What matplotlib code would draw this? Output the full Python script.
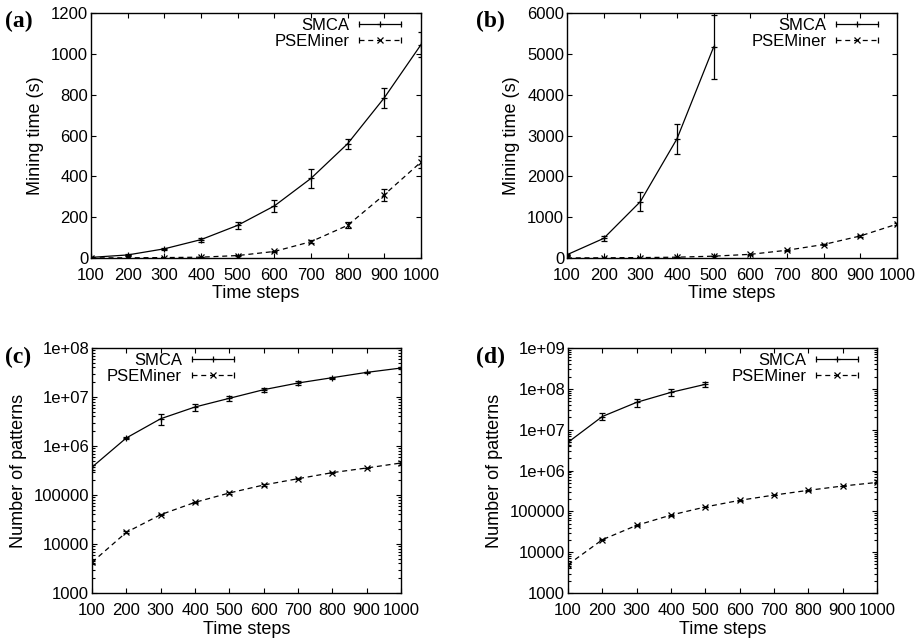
import numpy as np
import matplotlib
matplotlib.use('Agg')
import matplotlib.pyplot as plt
from matplotlib.lines import Line2D
from matplotlib.legend_handler import HandlerLine2D, HandlerTuple
from matplotlib.ticker import FixedLocator, FuncFormatter, LogLocator, NullFormatter

plt.rcParams['font.family'] = ['Liberation Sans', 'DejaVu Sans']
plt.rcParams['font.size'] = 12

steps = [100, 200, 300, 400, 500, 600, 700, 800, 900, 1000]
steps_b = [100, 200, 300, 400, 500]

# (a) mining time, dataset 1
a_smca = [3, 15, 45, 90, 160, 255, 390, 560, 785, 1045]
a_smca_err = [2, 3, 5, 10, 18, 28, 45, 25, 48, 60]
a_pse = [0.5, 1, 2, 4, 12, 32, 80, 160, 310, 470]
a_pse_err = [0, 0, 0, 1, 2, 3, 8, 15, 30, 30]

# (b) mining time, dataset 2
b_smca = [80, 480, 1380, 2920, 5170]
b_smca_err = [20, 70, 240, 370, 780]
b_pse = [2, 5, 10, 20, 45, 90, 190, 330, 540, 830]
b_pse_err = [0, 0, 0, 0, 5, 8, 10, 12, 15, 20]

# (c) number of patterns, dataset 1
c_smca = [3.7e5, 1.46e6, 3.6e6, 6.25e6, 9.4e6, 1.41e7, 1.93e7, 2.48e7, 3.18e7, 3.9e7]
c_smca_err = [4e4, 1e5, 9e5, 1e6, 1.3e6, 1.5e6, 1.5e6, 1e6, 1e6, 1e6]
c_pse = [4230, 17300, 39700, 70800, 1.1e5, 1.6e5, 2.15e5, 2.86e5, 3.56e5, 4.5e5]
c_pse_err = [300, 800, 1500, 2500, 3000, 4000, 5000, 6000, 7000, 8000]

# (d) number of patterns, dataset 2
d_smca = [4.9e6, 2.1e7, 4.67e7, 8.2e7, 1.29e8]
d_smca_err = [8e5, 4e6, 1.1e7, 1.5e7, 2e7]
d_pse = [4940, 20200, 45400, 81000, 1.28e5, 1.86e5, 2.5e5, 3.27e5, 4.17e5, 5.1e5]
d_pse_err = [300, 800, 1500, 2500, 3000, 4000, 5000, 6000, 7000, 8000]

fig = plt.figure(figsize=(9.22, 6.44), dpi=100)
W, H = 922.0, 644.0
ax_a = fig.add_axes([91 / W, 1 - 258 / H, 330 / W, 245 / H])
ax_b = fig.add_axes([567 / W, 1 - 258 / H, 330 / W, 245 / H])
ax_c = fig.add_axes([92 / W, 1 - 593 / H, 309 / W, 245 / H])
ax_d = fig.add_axes([568 / W, 1 - 593 / H, 309 / W, 245 / H])


def log_fmt(v, pos):
    if v < 1e6:
        return '%d' % round(v)
    e = int(round(np.log10(v)))
    return '1e+%02d' % e


def series(ax, x, y, err, ls, mk):
    ax.errorbar(x, y, yerr=err, color='k', ls=ls, lw=0.9, marker=mk, ms=4,
                mew=0.9, elinewidth=0.9, capsize=2, capthick=0.9,
                dashes=(4, 3) if ls == '--' else (None, None))


def handles(ls, mk):
    if ls == '--':
        h1 = Line2D([], [], color='k', ls='--', dashes=(4, 3), lw=0.9, marker=mk, ms=4, mew=0.9)
    else:
        h1 = Line2D([], [], color='k', ls='-', lw=0.9, marker=mk, ms=4, mew=0.9)
    h2 = Line2D([], [], color='k', ls='none', marker='|', ms=5, mew=0.9)
    return (h1, h2)


def setup(ax, ylab, label, label_xy, logy, leg_loc, leg_anchor):
    ax.set_xlim(100, 1000)
    ax.xaxis.set_major_locator(FixedLocator(steps))
    ax.tick_params(which='both', direction='in', top=True, right=True, width=0.8,
                   labelsize=12, colors='k')
    ax.tick_params(which='major', length=3.5)
    ax.tick_params(which='minor', length=2)
    ax.tick_params(axis='x', pad=7)
    ax.tick_params(axis='y', pad=2)
    for s in ax.spines.values():
        s.set_linewidth(1.0)
    if logy:
        ax.yaxis.set_major_formatter(FuncFormatter(log_fmt))
        ax.yaxis.set_minor_locator(LogLocator(base=10, subs=np.arange(2, 10)))
        ax.yaxis.set_minor_formatter(NullFormatter())
    ax.set_xlabel('Time steps', fontsize=13, labelpad=2)
    ax.set_ylabel(ylab, fontsize=13, labelpad=5)
    hs = handles('-', '+')
    hp = handles('--', 'x')
    hmap = {
        hs[0]: HandlerLine2D(numpoints=1),
        hs[1]: HandlerLine2D(numpoints=2, marker_pad=0),
        hp[0]: HandlerLine2D(numpoints=1),
        hp[1]: HandlerLine2D(numpoints=2, marker_pad=0),
        tuple: HandlerTuple(ndivide=1),
    }
    ax.legend([hs, hp], ['SMCA', 'PSEMiner'], loc=leg_loc, bbox_to_anchor=leg_anchor,
              frameon=False, markerfirst=False, handlelength=2.5, handletextpad=0.6,
              labelspacing=0.05, borderpad=0, borderaxespad=0, fontsize=12,
              handler_map=hmap)
    fig.text(label_xy[0] / W, 1 - label_xy[1] / H, label,
             fontsize=17, fontweight='bold', family=['Liberation Serif', 'DejaVu Serif'],
             ha='left', va='top')


series(ax_a, steps, a_smca, a_smca_err, '-', '+')
series(ax_a, steps, a_pse, a_pse_err, '--', 'x')
ax_a.set_ylim(0, 1200)
ax_a.set_yticks(range(0, 1201, 200))
setup(ax_a, 'Mining time (s)', '(a)', (5, 11), False, 'upper right', (1 - 20 / 330, 1 - 5 / 245))

series(ax_b, steps_b, b_smca, b_smca_err, '-', '+')
series(ax_b, steps, b_pse, b_pse_err, '--', 'x')
ax_b.set_ylim(0, 6000)
ax_b.set_yticks(range(0, 6001, 1000))
setup(ax_b, 'Mining time (s)', '(b)', (476, 11), False, 'upper right', (1 - 19 / 330, 1 - 5 / 245))

ax_c.set_yscale('log')
series(ax_c, steps, c_smca, c_smca_err, '-', '+')
series(ax_c, steps, c_pse, c_pse_err, '--', 'x')
ax_c.set_ylim(1e3, 1e8)
setup(ax_c, 'Number of patterns', '(c)', (5, 347), True, 'upper left', (15 / 309, 1 - 5 / 245))

ax_d.set_yscale('log')
series(ax_d, steps_b, d_smca, d_smca_err, '-', '+')
series(ax_d, steps, d_pse, d_pse_err, '--', 'x')
ax_d.set_ylim(1e3, 1e9)
setup(ax_d, 'Number of patterns', '(d)', (476, 347), True, 'upper right', (1 - 19 / 309, 1 - 5 / 245))

fig.savefig('out.png', dpi=100)
